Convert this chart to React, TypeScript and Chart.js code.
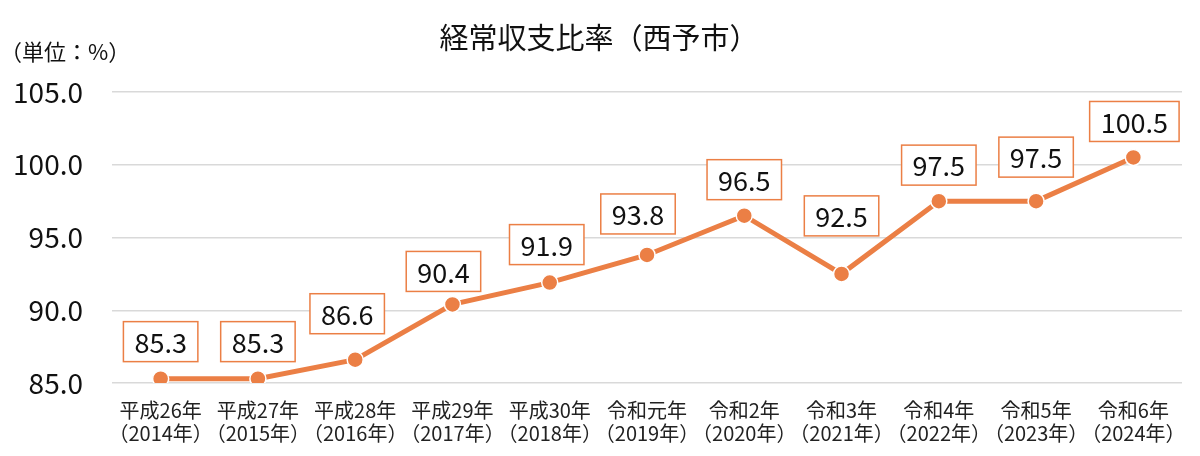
import { useEffect, useRef } from "react";
import { Chart, registerables, Plugin } from "chart.js";

Chart.register(...registerables);

const eraLabels = [
  "平成26年", "平成27年", "平成28年", "平成29年", "平成30年",
  "令和元年", "令和2年", "令和3年", "令和4年", "令和5年", "令和6年",
];
const yearLabels = [
  "（2014年）", "（2015年）", "（2016年）", "（2017年）", "（2018年）", "（2019年）",
  "（2020年）", "（2021年）", "（2022年）", "（2023年）", "（2024年）",
];
const ratioValues = [85.3, 85.3, 86.6, 90.4, 91.9, 93.8, 96.5, 92.5, 97.5, 97.5, 100.5];

// hand-placed label boxes: gap above the point and sideways nudge (px)
const labelGaps = [17, 17, 26, 13, 18, 21, 16, 38, 16, 24, 16];
const labelShifts = [0, 0, -8, -9, -3, -9, 0, 0, 0, 0, 1];

const TITLE = "経常収支比率（西予市）";
const UNIT = "（単位：%）";
const FONT = "'Noto Sans CJK JP', 'Noto Sans', sans-serif";
const ORANGE = "#EB7F45";

// Title, unit caption and the boxed value labels above each point.
const decorations: Plugin<"line"> = {
  id: "decorations",
  afterDatasetsDraw(chart) {
    const { ctx } = chart;
    ctx.save();
    ctx.fillStyle = "#111";
    ctx.textBaseline = "middle";
    ctx.textAlign = "center";
    ctx.font = `29px ${FONT}`;
    ctx.fillText(TITLE, 599, 38);
    ctx.textAlign = "left";
    ctx.font = `22px ${FONT}`;
    ctx.fillText(UNIT, 0, 52);

    const meta = chart.getDatasetMeta(0);
    ctx.font = `27px ${FONT}`;
    ctx.textAlign = "center";
    meta.data.forEach((pt, i) => {
      const text = ratioValues[i].toFixed(1);
      const w = ctx.measureText(text).width + 22;
      const h = 40;
      const cx = pt.x + labelShifts[i];
      const x = cx - w / 2;
      const y = pt.y - labelGaps[i] - h;
      ctx.fillStyle = "#fff";
      ctx.fillRect(x, y, w, h);
      ctx.strokeStyle = ORANGE;
      ctx.lineWidth = 1.5;
      ctx.strokeRect(x, y, w, h);
      ctx.fillStyle = "#111";
      ctx.fillText(text, cx, y + h / 2 + 1);
    });
    ctx.restore();
  },
};

export default function App() {
  const canvasRef = useRef<HTMLCanvasElement | null>(null);

  useEffect(() => {
    document.body.style.margin = "0";
    if (!canvasRef.current) return;
    const chart = new Chart(canvasRef.current, {
      type: "line",
      data: {
        labels: eraLabels.map((e, i) => [e, yearLabels[i]]),
        datasets: [
          {
            data: ratioValues,
            borderColor: ORANGE,
            backgroundColor: ORANGE,
            borderWidth: 5,
            pointRadius: 8,
            pointBorderColor: "#fff",
            pointBorderWidth: 1.5,
            pointBackgroundColor: ORANGE,
            tension: 0,
          },
        ],
      },
      options: {
        responsive: false,
        animation: false,
        layout: { padding: { top: 92, right: 18, bottom: -5, left: 8 } },
        plugins: { legend: { display: false }, tooltip: { enabled: false } },
        scales: {
          x: {
            offset: true,
            afterFit: (scale: any) => {
              scale.paddingLeft = 0;
              scale.paddingRight = 0;
            },
            grid: { display: false, drawTicks: false },
            border: { display: false },
            ticks: {
              color: "#222",
              padding: 16,
              maxRotation: 0,
              autoSkip: false,
              font: { family: FONT, size: 20, lineHeight: 1.15 },
            },
          },
          y: {
            min: 85,
            max: 105,
            afterFit: (scale) => {
              scale.width = 104;
            },
            grid: { color: "#d9d9d9", lineWidth: 1.5, drawTicks: false },
            border: { display: false },
            ticks: {
              stepSize: 5,
              color: "#111",
              padding: 29,
              font: { family: FONT, size: 28 },
              callback: (v) => Number(v).toFixed(1),
            },
          },
        },
      },
      plugins: [decorations],
    });
    return () => chart.destroy();
  }, []);

  return (
    <div style={{ width: 1200, height: 456 }}>
      <canvas ref={canvasRef} width={1200} height={456} />
    </div>
  );
}
